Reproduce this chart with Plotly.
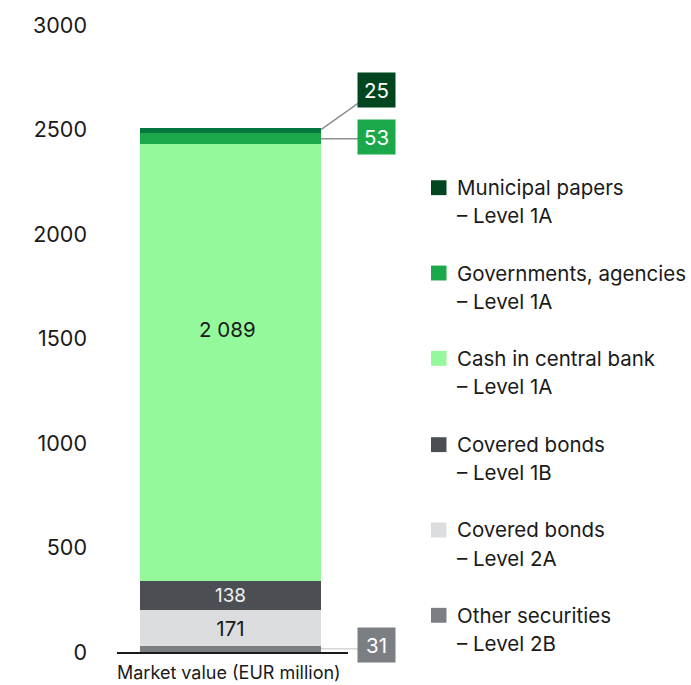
import plotly.graph_objects as go

# Liquidity portfolio, stacked from the bottom up
series_names = [
    "Other securities",
    "Covered bonds",
    "Covered bonds",
    "Cash in central bank",
    "Governments, agencies",
    "Municipal papers",
]
series_levels = ["– Level 2B", "– Level 2A", "– Level 1B", "– Level 1A", "– Level 1A", "– Level 1A"]
series_values = [31, 171, 138, 2089, 53, 25]
bar_colors = ["#7b7f83", "#dcdddf", "#4b4f53", "#94f99a", "#1aa84a", "#04773f"]
key_colors = ["#7b7f83", "#dcdddf", "#4b4f53", "#94f99a", "#1aa84a", "#01461f"]
label_colors = ["#ffffff", "#1a1a1a", "#f2f2f2", "#1a1a1a", "#ffffff", "#ffffff"]
label_inside = [False, True, True, False, False, False]
category = ["Market value (EUR million)"]
y_ticks = [0, 500, 1000, 1500, 2000, 2500, 3000]

FONT = "Inter, 'Noto Sans', sans-serif"
FS = 20.5
W, H = 691, 685
L, R, T, B = 117, 343, 20, 33
PW, PH = W - L - R, H - T - B
Y_MAX = y_ticks[-1]


def fmt(v):
    return f"{v:,}".replace(",", " ")


def px(x):
    return (x - L) / PW


def py(y):
    return (H - B - y) / PH


def vy(v):
    return v / Y_MAX


fig = go.Figure()
for name, lvl, val, col, tcol, inside in zip(
    series_names, series_levels, series_values, bar_colors, label_colors, label_inside
):
    fig.add_trace(go.Bar(
        x=[0], y=[val], name=f"{name} {lvl}",
        marker=dict(color=col, line=dict(width=0)),
        width=0.7835,
        text=[fmt(val)] if inside else [""],
        textposition="inside" if inside else "none",
        insidetextanchor="middle",
        textangle=0,
        textfont=dict(family=FONT, size=FS, color=tcol),
        showlegend=False,
        hoverinfo="skip",
    ))

shapes, annotations = [], []

# Label of the large cash segment, set in the upper part of the segment
annotations.append(dict(
    xref="paper", yref="paper", x=px(227), y=py(327),
    xanchor="center", yanchor="middle", showarrow=False,
    text=fmt(series_values[3]),
    font=dict(family=FONT, size=FS, color=label_colors[3]),
))

# Callout boxes for the thin segments
bar_edge = px(321)
box_left = px(358)
box_cx = px(376.5)
cum = []
run = 0
for v in series_values:
    cum.append((run, run + v))
    run += v

callouts = [(5, "#8c8f93"), (4, "#8c8f93"), (0, "#d6d6d6")]
for idx, lcol in callouts:
    lo, hi = cum[idx]
    mid = (lo + hi) / 2
    if idx == 5:
        y0 = vy(hi) - 1.5 / PH
        box_y = py(86)
        y1 = py(99)
    else:
        y0 = vy(mid)
        box_y = vy(mid) + (2 / PH if idx == 4 else 4 / PH)
        y1 = y0
    shapes.append(dict(type="line", xref="paper", yref="paper",
                       x0=bar_edge, x1=box_left, y0=y0, y1=y1,
                       line=dict(color=lcol, width=1.5), layer="above"))
    annotations.append(dict(
        xref="paper", yref="paper", x=box_cx, y=box_y,
        xanchor="center", yanchor="middle", showarrow=False,
        text=fmt(series_values[idx]),
        font=dict(family=FONT, size=FS, color="#ffffff"),
        bgcolor=key_colors[idx], width=37, height=34, borderpad=0,
    ))

# Key on the right, top entry first
key_rows = [184, 270, 356, 443, 529, 615]
for row, i in zip(key_rows, range(len(series_values) - 1, -1, -1)):
    shapes.append(dict(type="rect", xref="paper", yref="paper",
                       x0=px(431), x1=px(446.5), y0=py(row + 7.5), y1=py(row - 7.5),
                       fillcolor=key_colors[i], line=dict(width=0)))
    annotations.append(dict(xref="paper", yref="paper", x=px(455), y=py(row),
                            xanchor="left", yanchor="middle", showarrow=False,
                            text=series_names[i],
                            font=dict(family=FONT, size=FS, color="#1a1a1a")))
    annotations.append(dict(xref="paper", yref="paper", x=px(455), y=py(row + 28.5),
                            xanchor="left", yanchor="middle", showarrow=False,
                            text=series_levels[i],
                            font=dict(family=FONT, size=FS, color="#1a1a1a")))

# Axis caption under the baseline
annotations.append(dict(xref="paper", yref="paper", x=px(229), y=py(673),
                        xanchor="center", yanchor="middle", showarrow=False,
                        text=category[0],
                        font=dict(family=FONT, size=18, color="#1a1a1a")))

fig.update_layout(
    width=W, height=H,
    margin=dict(l=L, r=R, t=T, b=B, pad=0),
    barmode="stack",
    bargap=0,
    plot_bgcolor="white",
    paper_bgcolor="white",
    font=dict(family=FONT, size=FS, color="#1a1a1a"),
    shapes=shapes,
    annotations=annotations,
    xaxis=dict(range=[-0.491, 0.509], showline=True, linecolor="#1a1a1a", linewidth=2,
               showticklabels=False, showgrid=False, zeroline=False, ticks="",
               fixedrange=True),
    yaxis=dict(range=[0, Y_MAX], tickvals=y_ticks, tickformat="d",
               showgrid=False, zeroline=False, showline=False, ticks="",
               ticklabelstandoff=29,
               tickfont=dict(family=FONT, size=21.5, color="#1a1a1a"),
               fixedrange=True),
    uniformtext=dict(mode=False),
)

fig.write_html("out.html")
